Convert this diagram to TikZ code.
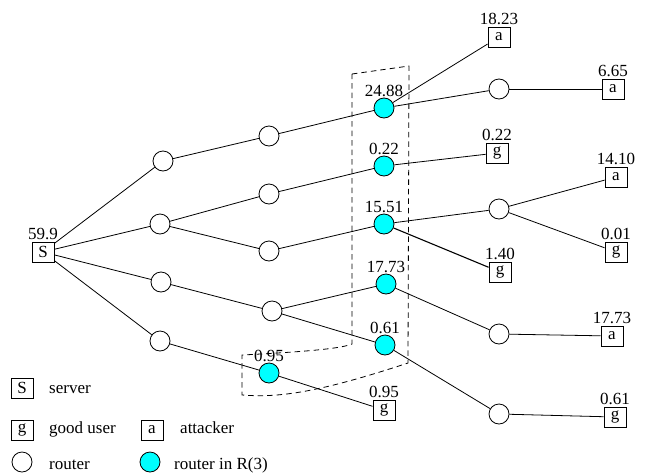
\documentclass[tikz,border=0pt]{standalone}
\usepackage{fontspec}
\setmainfont{Liberation Serif}
\definecolor{rcyan}{RGB}{0,255,255}
\begin{document}
\begin{tikzpicture}[x=1pt,y=-1pt, font=\fontsize{17}{20}\selectfont,
 rtr/.style={circle,draw,line width=0.8pt,minimum size=20pt,inner sep=0pt,fill=white},
 crtr/.style={rtr,fill=rcyan},
 box/.style={draw,line width=0.8pt,minimum width=22pt,minimum height=20pt,inner sep=0pt,fill=white},
 lnk/.style={line width=0.8pt},
 val/.style={label={[inner sep=1pt]above:#1}},
 bval/.style={label={[inner sep=0.5pt,label distance=1.5pt]above:#1}},
 region/.style={draw=black,line width=0.8pt,dash pattern=on 5.5pt off 4pt},
 legtext/.style={anchor=base west,inner sep=0pt}]
\useasboundingbox (0,0) rectangle (647,474);
% dashed region
\draw[region] (352,74) -- (409,66) -- (408,363)
  .. controls (320,392) and (280,398) .. (242,395) -- (242,355)
  .. controls (300,352) and (340,349) .. (352,344) -- cycle;
% server
\node[box,bval=59.9] (S) at (43,252) {S};
% level 1
\node[rtr] (A) at (163,161) {};
\node[rtr] (B) at (160,224) {};
\node[rtr] (C) at (161,282) {};
\node[rtr] (D) at (160,341) {};
% level 2
\node[rtr] (E) at (269,136) {};
\node[rtr] (F) at (269,194) {};
\node[rtr] (G) at (269,251) {};
\node[rtr] (H) at (272,311) {};
\node[crtr,val=0.95] (I) at (269,373) {};
% level 3 (R(3))
\node[crtr,val=24.88] (J) at (384,108) {};
\node[crtr,val=0.22] (K) at (384,166) {};
\node[crtr,val=15.51] (L) at (384,224) {};
\node[crtr,val=17.73] (M) at (386,284) {};
\node[crtr,val=0.61] (N) at (385,345) {};
% right side
\node[box,bval=18.23] (a1) at (499,37) {a};
\node[rtr] (O) at (499,89) {};
\node[box,bval=6.65] (a2) at (613,89) {a};
\node[box,bval=0.22] (g1) at (497,153) {g};
\node[box,bval=14.10] (a3) at (616,177) {a};
\node[rtr] (P) at (499,209) {};
\node[box,bval=0.01] (g2) at (616,252) {g};
\node[box,bval=1.40] (g3) at (500,272) {g};
\node[rtr] (Q) at (499,334) {};
\node[box,bval=17.73] (a4) at (612,336) {a};
\node[box,bval=0.95] (g4) at (384,410) {g};
\node[rtr] (R) at (499,414) {};
\node[box,bval=0.61] (g5) at (615,417) {g};
% links
\draw[lnk] (S) -- (A);
\draw[lnk] (S) -- (B);
\draw[lnk] (S) -- (C);
\draw[lnk] (S) -- (D);
\draw[lnk] (A) -- (E);
\draw[lnk] (E) -- (J);
\draw[lnk] (J) -- (a1);
\draw[lnk] (J) -- (O);
\draw[lnk] (O) -- (a2);
\draw[lnk] (B) -- (F);
\draw[lnk] (F) -- (K);
\draw[lnk] (K) -- (g1);
\draw[lnk] (B) -- (G);
\draw[lnk] (G) -- (L);
\draw[lnk] (L) -- (P);
\draw[lnk,line width=1.1pt] (L) -- (g3);
\draw[lnk] (P) -- (a3);
\draw[lnk] (P) -- (g2);
\draw[lnk] (C) -- (H);
\draw[lnk] (H) -- (M);
\draw[lnk] (H) -- (N);
\draw[lnk] (M) -- (Q);
\draw[lnk] (Q) -- (a4);
\draw[lnk] (N) -- (R);
\draw[lnk] (R) -- (g5);
\draw[lnk] (D) -- (I);
\draw[lnk] (I) -- (g4);
% legend
\node[box] (lS) at (22,388) {S};
\node[legtext] (tS) at (49,393) {server};
\node[box] (lg) at (22,430) {g};
\node[legtext] (tg) at (49,433) {good user};
\node[box] (la) at (152,430) {a};
\node[legtext] (ta) at (180,433) {attacker};
\node[rtr] (lr) at (22,462) {};
\node[legtext] (tr) at (49,469) {router};
\node[crtr] (lc) at (150,462) {};
\node[legtext] (tc) at (174,469) {router in R(3)};
\end{tikzpicture}
\end{document}
